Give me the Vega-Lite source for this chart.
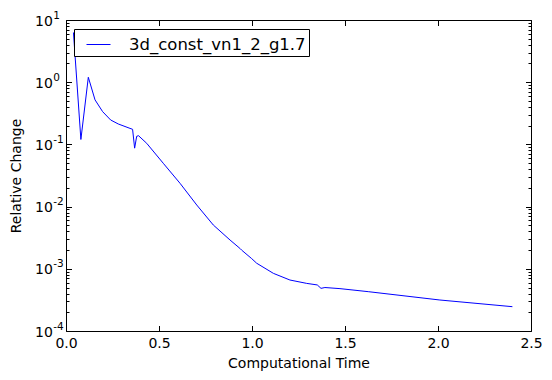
{
  "$schema": "https://vega.github.io/schema/vega-lite/v6.json",
  "width": 465,
  "height": 311,
  "autosize": "none",
  "padding": {"left": 66, "top": 20, "right": 21, "bottom": 49},
  "background": "white",
  "config": {
    "view": {"stroke": "black", "strokeWidth": 1},
    "font": "DejaVu Sans",
    "axis": {"labelFont": "DejaVu Sans", "titleFont": "DejaVu Sans", "labelColor": "black", "titleColor": "black", "tickColor": "black", "tickWidth": 1, "grid": false, "domain": false, "titleFontWeight": "normal", "labelFlush": false, "labelOverlap": false}
  },
  "data": {
    "values": [
      {"t": 0.04, "v": 6.3, "series": "3d_const_vn1_2_g1.7"},
      {"t": 0.08, "v": 0.12, "series": "3d_const_vn1_2_g1.7"},
      {"t": 0.12, "v": 1.2, "series": "3d_const_vn1_2_g1.7"},
      {"t": 0.156, "v": 0.52, "series": "3d_const_vn1_2_g1.7"},
      {"t": 0.197, "v": 0.336, "series": "3d_const_vn1_2_g1.7"},
      {"t": 0.24, "v": 0.247, "series": "3d_const_vn1_2_g1.7"},
      {"t": 0.281, "v": 0.213, "series": "3d_const_vn1_2_g1.7"},
      {"t": 0.344, "v": 0.181, "series": "3d_const_vn1_2_g1.7"},
      {"t": 0.358, "v": 0.175, "series": "3d_const_vn1_2_g1.7"},
      {"t": 0.369, "v": 0.087, "series": "3d_const_vn1_2_g1.7"},
      {"t": 0.38, "v": 0.135, "series": "3d_const_vn1_2_g1.7"},
      {"t": 0.39, "v": 0.138, "series": "3d_const_vn1_2_g1.7"},
      {"t": 0.434, "v": 0.104, "series": "3d_const_vn1_2_g1.7"},
      {"t": 0.523, "v": 0.0497, "series": "3d_const_vn1_2_g1.7"},
      {"t": 0.613, "v": 0.0237, "series": "3d_const_vn1_2_g1.7"},
      {"t": 0.703, "v": 0.0106, "series": "3d_const_vn1_2_g1.7"},
      {"t": 0.792, "v": 0.00506, "series": "3d_const_vn1_2_g1.7"},
      {"t": 0.882, "v": 0.0029, "series": "3d_const_vn1_2_g1.7"},
      {"t": 0.935, "v": 0.00213, "series": "3d_const_vn1_2_g1.7"},
      {"t": 0.944, "v": 0.002, "series": "3d_const_vn1_2_g1.7"},
      {"t": 0.998, "v": 0.00146, "series": "3d_const_vn1_2_g1.7"},
      {"t": 1.025, "v": 0.00123, "series": "3d_const_vn1_2_g1.7"},
      {"t": 1.115, "v": 0.000845, "series": "3d_const_vn1_2_g1.7"},
      {"t": 1.204, "v": 0.00066, "series": "3d_const_vn1_2_g1.7"},
      {"t": 1.294, "v": 0.000583, "series": "3d_const_vn1_2_g1.7"},
      {"t": 1.351, "v": 0.00055, "series": "3d_const_vn1_2_g1.7"},
      {"t": 1.371, "v": 0.000485, "series": "3d_const_vn1_2_g1.7"},
      {"t": 1.392, "v": 0.0005, "series": "3d_const_vn1_2_g1.7"},
      {"t": 1.473, "v": 0.00048, "series": "3d_const_vn1_2_g1.7"},
      {"t": 1.625, "v": 0.000429, "series": "3d_const_vn1_2_g1.7"},
      {"t": 2.01, "v": 0.000315, "series": "3d_const_vn1_2_g1.7"},
      {"t": 2.4, "v": 0.000246, "series": "3d_const_vn1_2_g1.7"}
    ]
  },
  "layer": [
    {
      "mark": {"type": "line", "strokeWidth": 1, "clip": true},
      "encoding": {
        "x": {
          "field": "t", "type": "quantitative",
          "scale": {"domain": [0, 2.5], "nice": false, "zero": false},
          "axis": {"orient": "bottom", "values": [0, 0.5, 1, 1.5, 2, 2.5], "format": ".1f", "ticks": false, "labelFontSize": 14, "labelPadding": 5, "title": "Computational Time", "titleFontSize": 14, "titlePadding": 6}
        },
        "y": {
          "field": "v", "type": "quantitative",
          "scale": {"type": "log", "domain": [0.0001, 10], "nice": false},
          "axis": {
            "orient": "left",
            "values": [0.0001, 0.001, 0.01, 0.1, 1, 10],
            "labelExpr": "'10'",
            "ticks": false,
            "labelAlign": "left",
            "labelPadding": 31.5,
            "labelOffset": 1,
            "labelFontSize": 14,
            "title": "Relative Change", "titleFontSize": 14, "titlePadding": 11
          }
        },
        "color": {
          "field": "series", "type": "nominal",
          "scale": {"range": ["#0000ff"]},
          "legend": {"orient": "none", "legendX": 8, "legendY": 9, "title": null, "symbolType": "stroke", "symbolSize": 576, "symbolStrokeWidth": 1, "labelFontSize": 16.5, "labelFont": "DejaVu Sans", "labelColor": "black", "labelLimit": 400, "strokeColor": "black", "fillColor": "white", "padding": 3, "symbolOffset": 9, "labelOffset": 18, "cornerRadius": 0}
        }
      }
    },
    {
      "mark": {"type": "line", "opacity": 0},
      "encoding": {
        "x": {"field": "t", "type": "quantitative", "axis": {"orient": "top", "values": [0, 0.5, 1, 1.5, 2, 2.5], "tickSize": -5.5, "labels": false, "title": null}},
        "y": {"field": "v", "type": "quantitative", "axis": {"orient": "right", "values": [0.0001, 0.001, 0.01, 0.1, 1, 10], "tickSize": -5.5, "labels": false, "title": null}}
      }
    },
    {
      "mark": {"type": "line", "opacity": 0},
      "encoding": {
        "x": {"field": "t", "type": "quantitative", "axis": {"orient": "bottom", "values": [0, 0.5, 1, 1.5, 2, 2.5], "tickSize": -5.5, "labels": false, "title": null}},
        "y": {"field": "v", "type": "quantitative", "axis": {"orient": "left", "values": [0.0001, 0.001, 0.01, 0.1, 1, 10], "tickSize": -5.5, "labels": false, "title": null}}
      }
    },
    {
      "mark": {"type": "line", "opacity": 0},
      "encoding": {
        "x": {"field": "t", "type": "quantitative", "axis": null},
        "y": {"field": "v", "type": "quantitative", "axis": {"orient": "left", "values": [0.0002, 0.0003, 0.0004, 0.0005, 0.0006, 0.0007, 0.0008, 0.0009, 0.002, 0.003, 0.004, 0.005, 0.006, 0.007, 0.008, 0.009, 0.02, 0.03, 0.04, 0.05, 0.06, 0.07, 0.08, 0.09, 0.2, 0.3, 0.4, 0.5, 0.6, 0.7, 0.8, 0.9, 2, 3, 4, 5, 6, 7, 8, 9], "tickSize": -3, "labels": false, "title": null}}
      }
    },
    {
      "mark": {"type": "line", "opacity": 0},
      "encoding": {
        "x": {"field": "t", "type": "quantitative", "axis": null},
        "y": {"field": "v", "type": "quantitative", "axis": {"orient": "right", "values": [0.0002, 0.0003, 0.0004, 0.0005, 0.0006, 0.0007, 0.0008, 0.0009, 0.002, 0.003, 0.004, 0.005, 0.006, 0.007, 0.008, 0.009, 0.02, 0.03, 0.04, 0.05, 0.06, 0.07, 0.08, 0.09, 0.2, 0.3, 0.4, 0.5, 0.6, 0.7, 0.8, 0.9, 2, 3, 4, 5, 6, 7, 8, 9], "tickSize": -3, "labels": false, "title": null}}
      }
    },
    {
      "mark": {"type": "line", "opacity": 0},
      "encoding": {
        "x": {"field": "t", "type": "quantitative", "axis": null},
        "y": {"field": "v", "type": "quantitative", "axis": {"orient": "left", "values": [0.0001, 0.001, 0.01, 0.1, 1, 10], "ticks": false, "labelExpr": "['-4','-3','-2','-1','0','1'][round(log(datum.value)/LN10) + 4]", "labelAlign": "left", "labelPadding": 13.2, "labelOffset": -5, "labelFontSize": 10.5, "title": null}}
      }
    }
  ],
  "resolve": {"axis": {"x": "independent", "y": "independent"}}
}
